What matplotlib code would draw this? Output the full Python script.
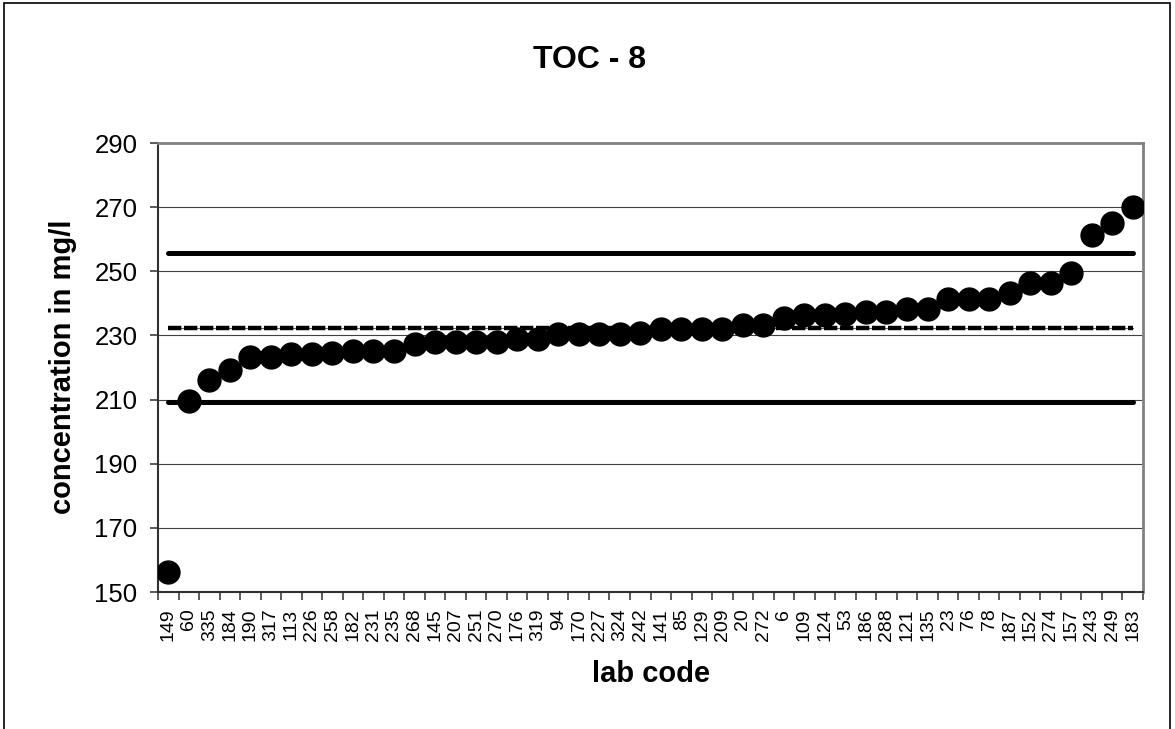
import numpy as np
import matplotlib
matplotlib.use("Agg")
import matplotlib.pyplot as plt
from matplotlib.patches import Rectangle

plt.rcParams['font.family'] = ['Liberation Sans', 'DejaVu Sans']

# lab codes in the order they are plotted (sorted by result)
lab_codes = ['149', '60', '335', '184', '190', '317', '113', '226', '258', '182',
             '231', '235', '268', '145', '207', '251', '270', '176', '319', '94',
             '170', '227', '324', '242', '141', '85', '129', '209', '20', '272',
             '6', '109', '124', '53', '186', '288', '121', '135', '23', '76',
             '78', '187', '152', '274', '157', '243', '249', '183']

# reported concentrations in mg/l
results = [156.2, 209.6, 216.1, 219.2, 223.4, 223.3, 224.2, 224.2, 224.6, 225.2,
           225.2, 225.2, 227.3, 228.0, 228.0, 228.0, 228.0, 228.8, 228.8, 230.4,
           230.4, 230.4, 230.4, 230.7, 231.9, 231.9, 231.9, 231.9, 233.2, 233.2,
           235.5, 236.4, 236.4, 236.7, 237.4, 237.4, 238.2, 238.2, 241.3, 241.3,
           241.3, 243.3, 246.2, 246.2, 249.4, 261.2, 265.2, 270.1]

assigned_value = 232.2
lower_limit = 209.3
upper_limit = 255.8

y_ticks = [150, 170, 190, 210, 230, 250, 270, 290]

W, H = 1175, 729
fig = plt.figure(figsize=(W / 100, H / 100), dpi=100)
ax = fig.add_axes([158 / W, 1 - 592 / H, (1143 - 158) / W, (592 - 143) / H])

x = np.arange(len(lab_codes))
n = len(lab_codes)

# grid
for v in y_ticks[1:-1]:
    ax.axhline(v, color='#404040', lw=0.8, zorder=1)

# limit lines and assigned value
ax.plot([x[0], x[-1]], [upper_limit, upper_limit], color='black', lw=3.6,
        solid_capstyle='round', zorder=2)
ax.plot([x[0], x[-1]], [lower_limit, lower_limit], color='black', lw=3.6,
        solid_capstyle='round', zorder=2)
ax.plot([x[0], x[-1]], [assigned_value, assigned_value], color='#606060', lw=0.8, zorder=2)
ax.plot([x[0], x[-1]], [assigned_value, assigned_value], color='black', lw=3.2,
        dashes=[3.0, 0.6], dash_capstyle='butt', zorder=2)

# results
ax.plot(x, results, 'o', color='black', markersize=16.5, zorder=3)

ax.set_xlim(-0.5, n - 0.5)
ax.set_ylim(150, 290)

# y axis
ax.set_yticks(y_ticks)
ax.tick_params(axis='y', labelsize=18.5, length=5.8, width=1.2, color='#404040', pad=9)

# x axis: tick marks between categories, labels at category centres
ax.set_xticks(np.arange(n + 1) - 0.5)
ax.set_xticklabels([])
ax.set_xticks(x, minor=True)
ax.set_xticklabels(lab_codes, minor=True, rotation=90, fontsize=14)
ax.tick_params(axis='x', which='major', length=5.5, width=1.2, color='#404040')
ax.tick_params(axis='x', which='minor', length=0, pad=12)

for side in ['top', 'right']:
    ax.spines[side].set_color('#808080')
    ax.spines[side].set_linewidth(2)
ax.spines['left'].set_color('#303030')
ax.spines['left'].set_linewidth(1.5)
ax.spines['bottom'].set_color('#303030')
ax.spines['bottom'].set_linewidth(1.5)

# titles
fig.text(590 / W, 1 - 68.3 / H, 'TOC - 8', fontsize=23, fontweight='bold',
         ha='center', va='baseline')
fig.text(651 / W, 1 - 682 / H, 'lab code', fontsize=21, fontweight='bold',
         ha='center', va='baseline')
fig.text(71.5 / W, 1 - 367 / H, 'concentration in mg/l', fontsize=21,
         fontweight='bold', rotation=90, rotation_mode='anchor',
         ha='center', va='baseline')

# outer chart frame (bottom edge is cut off)
fig.add_artist(Rectangle((4 / W, -0.05), (1170 - 4) / W, 1.05 - 3 / H,
                         transform=fig.transFigure, fill=False,
                         edgecolor='black', lw=1.2))

fig.savefig('out.png', dpi=100)
